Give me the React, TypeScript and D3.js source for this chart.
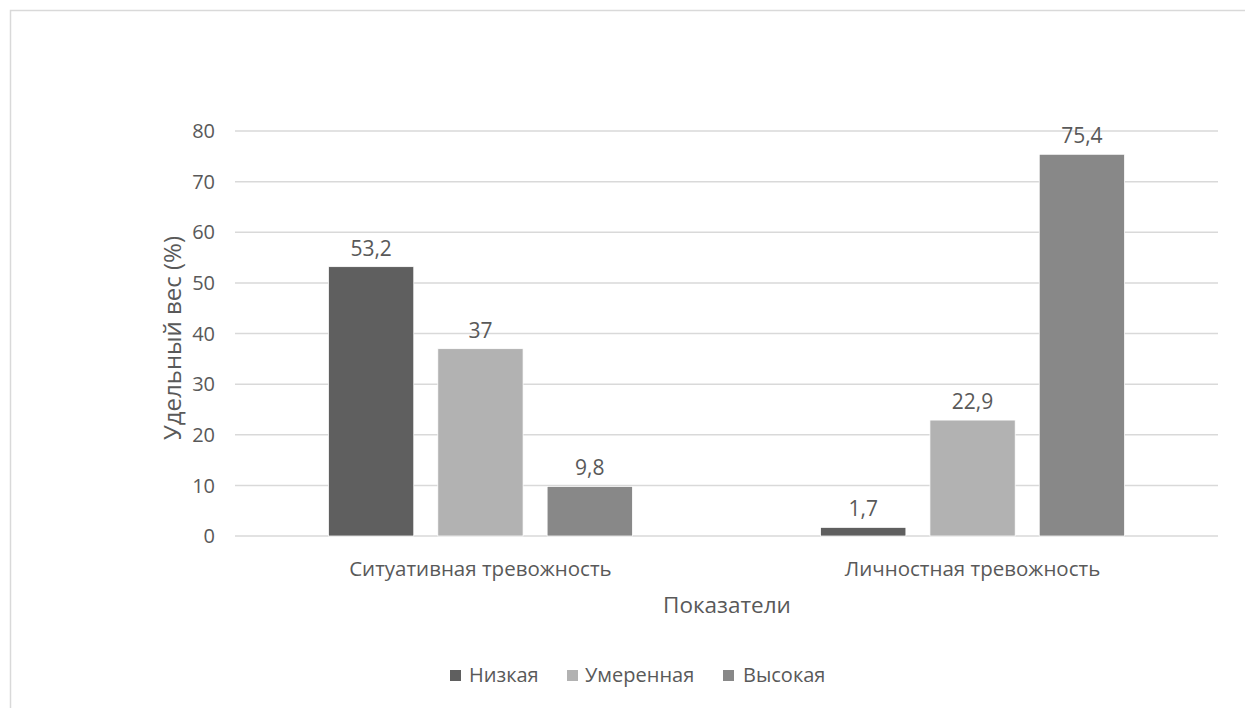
import React from "react";
import * as d3 from "d3";

const categories = ["Ситуативная тревожность", "Личностная тревожность"];
const seriesNames = ["Низкая", "Умеренная", "Высокая"];
const lowValues = [53.2, 1.7];
const moderateValues = [37, 22.9];
const highValues = [9.8, 75.4];
const valueLabels = [["53,2", "1,7"], ["37", "22,9"], ["9,8", "75,4"]];
const yTicks = [0, 10, 20, 30, 40, 50, 60, 70, 80];
const colors = ["#5f5f5f", "#b2b2b2", "#888888"];

const W = 1245;
const H = 708;
const FONT = "'Open Sans', sans-serif";
const TXT = "#595959";

export default function App() {
  const series = [lowValues, moderateValues, highValues];
  const left = 235, right = 1218, top = 131, bottom = 536;
  const x0 = d3.scaleBand<string>().domain(categories).range([left, right]).paddingInner(0.3825).paddingOuter(0.19);
  const x1 = d3.scaleBand<string>().domain(seriesNames).range([0, x0.bandwidth()]).paddingInner(0.22);
  const y = d3.scaleLinear().domain([0, 80]).range([bottom, top]);

  const legendItems = [{ sx: 450, tx: 469 }, { sx: 567, tx: 585 }, { sx: 723, tx: 743 }];

  return (
    <svg width={W} height={H} style={{ position: "absolute", left: 0, top: 0, display: "block" }}>
      <rect x={0} y={0} width={W} height={H} fill="#fff" />
      <rect x={10.5} y={10.5} width={W + 20} height={H + 20} fill="#fff" stroke="#d9d9d9" strokeWidth={1.5} />
      {yTicks.map((t) => (
        <g key={t}>
          <line x1={left} x2={right} y1={y(t)} y2={y(t)} stroke="#d9d9d9" strokeWidth={1.5} />
          <text x={215} y={y(t)} dy="0.36em" textAnchor="end" fontFamily={FONT} fontSize={20} fill={TXT}>{t}</text>
        </g>
      ))}
      {categories.map((c, ci) => (
        <g key={c} transform={`translate(${x0(c)},0)`}>
          {seriesNames.map((s, si) => {
            const v = series[si][ci];
            const bx = x1(s)!;
            return (
              <g key={s}>
                <rect x={bx} y={y(v)} width={x1.bandwidth()} height={y(0) - y(v)} fill={colors[si]} stroke="#ffffff" strokeWidth={0.75} />
                <text x={bx + x1.bandwidth() / 2} y={y(v) - 11} textAnchor="middle" fontFamily={FONT} fontSize={21} fill={TXT}>{valueLabels[si][ci]}</text>
              </g>
            );
          })}
          <text x={x0.bandwidth() / 2} y={576} textAnchor="middle" fontFamily={FONT} fontSize={20.5} fill={TXT}>{c}</text>
        </g>
      ))}
      <text x={727} y={613} textAnchor="middle" fontFamily={FONT} fontSize={22.5} fill={TXT}>Показатели</text>
      <text transform={`translate(181,338) rotate(-90)`} textAnchor="middle" fontFamily={FONT} fontSize={24} fill={TXT}>Удельный вес (%)</text>
      {seriesNames.map((s, i) => (
        <g key={s}>
          <rect x={legendItems[i].sx} y={670} width={11} height={11} fill={colors[i]} />
          <text x={legendItems[i].tx} y={682} fontFamily={FONT} fontSize={20} fill={TXT}>{s}</text>
        </g>
      ))}
    </svg>
  );
}
